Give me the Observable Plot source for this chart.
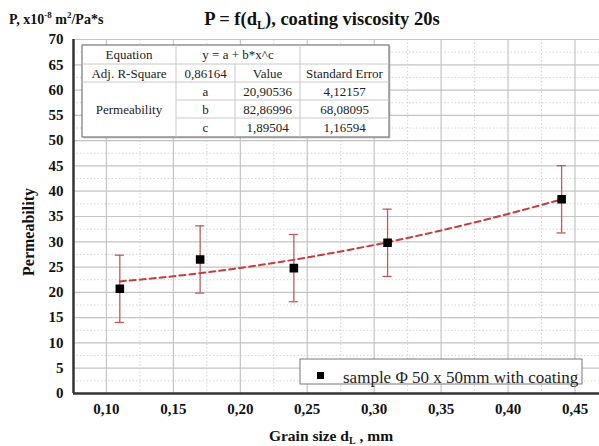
<!DOCTYPE html>
<html><head><meta charset="utf-8">
<script src="https://cdn.jsdelivr.net/npm/d3@7"></script>
<script src="https://cdn.jsdelivr.net/npm/@observablehq/plot@0.6"></script>
<style>
body{margin:0;background:#fff}
#chart{position:relative;width:599px;height:446px}
#chart svg, #chart svg text, #chart svg tspan{font-family:"Liberation Serif","Times New Roman",serif !important}
</style>
</head><body><div id="chart"></div>
<script>
// ---- data ----
const grainSize = [0.11, 0.17, 0.24, 0.31, 0.44];
const permeability = [20.7, 26.5, 24.8, 29.8, 38.4];
const stdError = [6.65, 6.65, 6.65, 6.65, 6.65];
// fitted curve
const fitX = [0.11, 0.15, 0.20, 0.25, 0.30, 0.35, 0.40, 0.44];
const fitY = [22.17, 23.18, 24.83, 26.90, 29.37, 32.24, 35.51, 38.39];
const xTicks = [0.10, 0.15, 0.20, 0.25, 0.30, 0.35, 0.40, 0.45];
const xMinor = [0.125, 0.175, 0.225, 0.275, 0.325, 0.375, 0.425, 0.475];
const yTicks = [0, 5, 10, 15, 20, 25, 30, 35, 40, 45, 50, 55, 60, 65, 70];
const yMinor = [2.5, 7.5, 12.5, 17.5, 22.5, 27.5, 32.5, 37.5, 42.5, 47.5, 52.5, 57.5, 62.5, 67.5];
const tableHeader = ["Equation", "y = a + b*x^c"];
const tableSub = ["Adj. R-Square", "0,86164", "Value", "Standard Error"];
const tableGroup = "Permeability";
const paramNames = ["a", "b", "c"];
const paramValues = ["20,90536", "82,86996", "1,89504"];
const paramErrors = ["4,12157", "68,08095", "1,16594"];
const legendLabel = "sample Φ 50 x 50mm with coating";

const points = grainSize.map((x, i) => ({x, y: permeability[i], e: stdError[i]}));
const fit = fitX.map((x, i) => ({x, y: fitY[i]}));
const fmt = d => d.toFixed(2).replace(".", ",");
const errColor = "#c45a57";
const xMin = 0.0754, xMax = 0.4683;

const plot = Plot.plot({
  width: 599, height: 446,
  marginTop: 39, marginLeft: 73, marginRight: 0, marginBottom: 53,
  x: {domain: [xMin, xMax]},
  y: {domain: [0, 70]},
  style: {color: "#111", background: "#fff"},
  marks: [
    Plot.ruleX(xMinor.filter(d => d < xMax), {stroke: "#d4d4d4", strokeDasharray: "1.5,2"}),
    Plot.ruleY(yMinor, {stroke: "#d4d4d4", strokeDasharray: "1.5,2"}),
    Plot.ruleX(xTicks, {stroke: "#c4c4c4", strokeWidth: 1.2}),
    Plot.ruleY(yTicks, {stroke: "#c4c4c4", strokeWidth: 1.2}),
    Plot.axisX({ticks: xTicks, tickFormat: fmt, tickSize: 0, tickPadding: 10, fontSize: 15, fontWeight: "bold", label: null}),
    Plot.axisY({ticks: yTicks, tickSize: 0, tickPadding: 10, fontSize: 15, fontWeight: "bold", label: null}),
    Plot.ruleX(points, {x: "x", y1: d => d.y - d.e, y2: d => d.y + d.e, stroke: errColor, strokeWidth: 1.3}),
    Plot.ruleY(points, {y: d => d.y + d.e, x1: d => d.x - 0.0034, x2: d => d.x + 0.0034, stroke: errColor, strokeWidth: 1.3}),
    Plot.ruleY(points, {y: d => d.y - d.e, x1: d => d.x - 0.0034, x2: d => d.x + 0.0034, stroke: errColor, strokeWidth: 1.3}),
    Plot.line(fit, {x: "x", y: "y", curve: "natural", stroke: "#c83c3c", strokeWidth: 2, strokeDasharray: "6,4"}),
    Plot.dot(points, {x: "x", y: "y", symbol: "square", r: 4, fill: "#000", stroke: "#000"}),
    Plot.ruleX([xMin], {stroke: "#333", strokeWidth: 2.5}),
    Plot.ruleY([0], {stroke: "#333", strokeWidth: 2.5})
  ]
});
document.getElementById("chart").appendChild(plot);

const svg = d3.select(plot);

// title
const t = svg.append("text").attr("x", 322).attr("y", 25).attr("text-anchor", "middle")
  .attr("font-size", 18.5).attr("font-weight", "bold").attr("fill", "#111");
t.append("tspan").text("P = f(d");
t.append("tspan").attr("dy", 4).attr("font-size", 12).text("L");
t.append("tspan").attr("dy", -4).text("), coating viscosity 20s");

// y unit label
const u = svg.append("text").attr("x", 9).attr("y", 24).attr("text-anchor", "start")
  .attr("font-size", 14).attr("font-weight", "bold").attr("fill", "#111");
u.append("tspan").text("P, x10");
u.append("tspan").attr("dy", -6).attr("font-size", 9).text("-8");
u.append("tspan").attr("dy", 6).text(" m");
u.append("tspan").attr("dy", -6).attr("font-size", 9).text("2");
u.append("tspan").attr("dy", 6).text("/Pa*s");

// y axis label
svg.append("text").attr("transform", "translate(34,232) rotate(-90)").attr("text-anchor", "middle")
  .attr("font-size", 16).attr("font-weight", "bold").attr("fill", "#111")
  .text("Permeability");

// x axis label
const xl = svg.append("text").attr("x", 331).attr("y", 441).attr("text-anchor", "middle")
  .attr("font-size", 15.5).attr("font-weight", "bold").attr("fill", "#111");
xl.append("tspan").text("Grain size d");
xl.append("tspan").attr("dy", 3).attr("font-size", 10).text("L");
xl.append("tspan").attr("dy", -3).text(" , mm");

// table
const tb = svg.append("g").attr("font-size", 13).attr("fill", "#222").attr("font-weight", "normal");
const L = 82, C1 = 176, C2 = 235, C3 = 300, R = 389;
const rows = [45, 64, 82, 100, 118, 137];
tb.append("rect").attr("x", L + 1.5).attr("y", rows[0] + 1.5).attr("width", R - L).attr("height", rows[5] - rows[0]).attr("fill", "#aaa").attr("opacity", 0.5);
tb.append("rect").attr("x", L).attr("y", rows[0]).attr("width", R - L).attr("height", rows[5] - rows[0]).attr("fill", "#fff").attr("stroke", "#777").attr("stroke-width", 1.2);
const line = (x1, y1, x2, y2) => tb.append("line").attr("x1", x1).attr("y1", y1).attr("x2", x2).attr("y2", y2).attr("stroke", "#c8c8c8");
line(L, rows[1], R, rows[1]);
line(L, rows[2], R, rows[2]);
line(C1, rows[3], R, rows[3]);
line(C1, rows[4], R, rows[4]);
line(C1, rows[0], C1, rows[5]);
line(C3, rows[0], C3, rows[5]);
line(C2, rows[1], C2, rows[5]);
const cell = (x, r, s) => tb.append("text").attr("x", x).attr("y", (rows[r] + rows[r + 1]) / 2).attr("dy", "0.35em").attr("text-anchor", "middle").text(s);
cell((L + C1) / 2, 0, tableHeader[0]);
cell((C1 + C3) / 2, 0, tableHeader[1]);
cell((L + C1) / 2, 1, tableSub[0]);
cell((C1 + C2) / 2, 1, tableSub[1]);
cell((C2 + C3) / 2, 1, tableSub[2]);
cell((C3 + R) / 2, 1, tableSub[3]);
tb.append("text").attr("x", (L + C1) / 2).attr("y", (rows[2] + rows[5]) / 2).attr("dy", "0.35em").attr("text-anchor", "middle").text(tableGroup);
paramNames.forEach((p, i) => {
  cell((C1 + C2) / 2, 2 + i, p);
  cell((C2 + C3) / 2, 2 + i, paramValues[i]);
  cell((C3 + R) / 2, 2 + i, paramErrors[i]);
});

// legend
const lg = svg.append("g").attr("font-weight", "normal");
lg.append("rect").attr("x", 300).attr("y", 359).attr("width", 282).attr("height", 25).attr("fill", "#fff").attr("stroke", "#777").attr("stroke-width", 1);
lg.append("rect").attr("x", 317).attr("y", 372).attr("width", 7).attr("height", 7).attr("fill", "#000");
lg.append("text").attr("x", 343).attr("y", 377).attr("dy", "0.35em").attr("text-anchor", "start").attr("font-size", 17).attr("fill", "#222").text(legendLabel);
</script>
</body></html>
